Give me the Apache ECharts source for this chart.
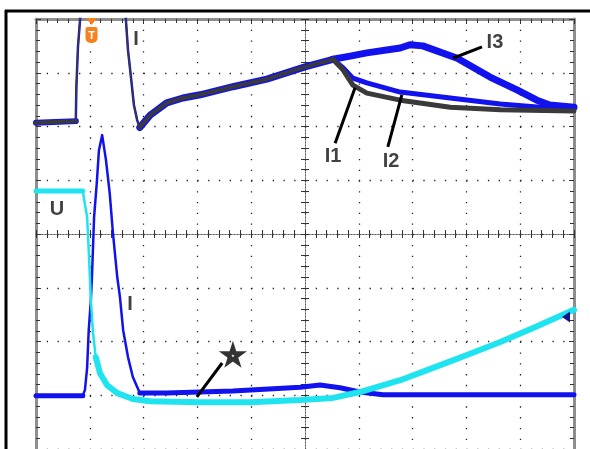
<!DOCTYPE html>
<html>
<head>
<meta charset="utf-8">
<script src="https://cdn.jsdelivr.net/npm/echarts/dist/echarts.min.js"></script>
<style>
html, body { margin: 0; padding: 0; background: #fff; }
#chart { width: 590px; height: 449px; }
</style>
</head>
<body>
<div id="chart"></div>
<script>
// all values in screen divisions, origin at the centre of the graticule

// upper trace: part shared by I1, I2, I3
const topBase = [[-5.0, 2.07], [-4.26, 2.10]];
const topSpike = [[-4.26, 2.10], [-4.25, 2.72], [-4.22, 3.48], [-4.18, 4.0], [-4.17, 4.4],
  [-3.34, 4.4], [-3.33, 4.0], [-3.29, 3.42], [-3.23, 2.87], [-3.18, 2.40], [-3.12, 2.12], [-3.07, 1.98]];
const topRamp = [[-3.07, 1.98], [-2.88, 2.21], [-2.57, 2.44], [-2.27, 2.53], [-1.95, 2.59],
  [-1.34, 2.74], [-0.71, 2.88], [0.0, 3.11], [0.52, 3.25]];

// upper trace: branches after the peak
const i1Tail = [[0.52, 3.25], [0.71, 3.05], [0.89, 2.77], [1.15, 2.62], [1.77, 2.49],
  [2.70, 2.36], [3.63, 2.31], [5.0, 2.29]];
const i2Tail = [[0.52, 3.25], [0.71, 3.09], [0.89, 2.90], [1.15, 2.81], [1.77, 2.64],
  [2.70, 2.53], [3.63, 2.42], [4.37, 2.36], [5.0, 2.36]];
const i3Tail = [[0.52, 3.25], [0.84, 3.31], [1.15, 3.37], [1.77, 3.46], [1.95, 3.52], [2.19, 3.50],
  [2.83, 3.27], [3.44, 2.92], [3.94, 2.68], [4.31, 2.49], [4.55, 2.40], [5.0, 2.36]];

// lower traces: voltage U
const uFlat = [[-5.0, 0.80], [-4.13, 0.80]];
const uDrop = [[-4.13, 0.80], [-4.11, 0.67], [-4.05, 0.32], [-4.02, -0.30], [-3.98, -1.23],
  [-3.94, -1.84], [-3.89, -2.29]];
const uTail = [[-3.89, -2.29], [-3.81, -2.59], [-3.68, -2.81], [-3.49, -2.96], [-3.20, -3.07],
  [-2.88, -3.11], [-1.95, -3.13], [-1.02, -3.13], [-0.09, -3.09], [0.52, -3.05], [1.02, -2.94],
  [1.77, -2.72], [2.38, -2.49], [3.01, -2.25], [3.63, -2.01], [4.24, -1.75], [5.0, -1.41]];

// lower traces: current I
const iBase = [[-5.0, -3.01], [-4.13, -3.01]];
const iPulse = [[-4.13, -3.01], [-4.09, -2.90], [-4.05, -2.49], [-4.02, -1.79], [-3.98, -1.23],
  [-3.96, -0.80], [-3.92, 0.32], [-3.87, 0.95], [-3.83, 1.56], [-3.77, 1.84], [-3.70, 1.38],
  [-3.63, 0.76], [-3.57, 0.02], [-3.49, -0.80], [-3.44, -1.17], [-3.38, -1.79], [-3.29, -2.29],
  [-3.20, -2.66], [-3.07, -2.96]];
const iTail = [[-3.07, -2.96], [-2.57, -2.96], [-1.34, -2.92], [-0.09, -2.85], [0.28, -2.81],
  [0.65, -2.86], [1.02, -2.94], [1.45, -2.99], [5.0, -2.99]];

// annotations
const labelTexts = ['I', 'I3', 'I1', 'I2', 'U', 'I'];
const labelAt = [[-3.14, 3.61], [3.53, 3.57], [0.52, 1.45], [1.60, 1.34], [-4.61, 0.45], [-3.25, -1.32]];
const pointerLines = [
  [[3.29, 3.48], [2.75, 3.27]],
  [[0.93, 2.72], [0.56, 1.69]],
  [[1.80, 2.59], [1.54, 1.62]],
  [[-1.54, -2.40], [-2.01, -3.03]]
];
const starAt = [-1.34, -2.25];

const BLUE = '#1212ee';
const GRAY = '#3a3a3a';
const CYAN = '#1fe4f0';
const ORANGE = '#f5821f';
const FONT = '"Liberation Sans Narrow", "Liberation Sans", Arial, sans-serif';

function trace(data, color, width, z) {
  return {
    type: 'line', data, symbol: 'none', z, silent: true, clip: true,
    lineStyle: { color, width, cap: 'round', join: 'round' }
  };
}

function axis(position, onZero, inside, split, border) {
  const horiz = position === 'top' || position === 'bottom';
  return {
    type: 'value', min: horiz ? -5 : -4, max: horiz ? 5 : 4, interval: 1, position,
    axisLine: {
      show: true, onZero, onZeroAxisIndex: onZero ? 0 : undefined,
      lineStyle: border ? { color: '#8e8e8e', width: 3 } : { color: '#555', width: 1, type: [1, 2] }
    },
    axisTick: { show: true, inside, length: border ? 5 : 4, lineStyle: { color: '#333' } },
    minorTick: { show: true, splitNumber: 5, length: 4, lineStyle: { color: '#333' } },
    axisLabel: { show: false },
    splitLine: { show: split, lineStyle: { color: '#222', width: 1.3, type: [1.3, 9.46] } }
  };
}

const chart = echarts.init(document.getElementById('chart'));
chart.setOption({
  animation: false,
  backgroundColor: '#fff',
  grid: { left: 36, right: 16, top: 19, bottom: 0 },
  xAxis: [
    axis('bottom', true, false, true, false),
    axis('top', true, false, false, false),
    axis('top', false, true, false, true)
  ],
  yAxis: [
    axis('left', true, false, true, false),
    axis('right', true, false, false, false),
    axis('left', false, true, false, true),
    axis('right', false, true, false, true)
  ],
  series: [
    trace(topBase, BLUE, 6, 3),
    trace(topSpike, BLUE, 2.5, 3),
    trace(topRamp, BLUE, 7, 3),
    trace(i2Tail, BLUE, 5, 3),
    trace(i3Tail, BLUE, 7, 3),
    trace(topBase, GRAY, 4, 4),
    trace(topSpike, GRAY, 1.5, 4),
    trace(topRamp, GRAY, 4, 4),
    trace(i1Tail, GRAY, 5, 4),
    trace(iBase, BLUE, 5, 3),
    trace(iPulse, BLUE, 2.5, 3),
    trace(iTail, BLUE, 5, 3),
    trace(uFlat, CYAN, 5, 5),
    trace(uDrop, CYAN, 2.5, 5),
    trace(uTail, CYAN, 6, 5),
    {
      type: 'lines', coordinateSystem: 'cartesian2d', z: 6, silent: true,
      data: pointerLines.map(c => ({ coords: c })),
      lineStyle: { color: '#000', width: 3, opacity: 1, curveness: 0 }
    },
    {
      type: 'scatter', z: 7, silent: true, symbolSize: 1,
      itemStyle: { color: 'rgba(0,0,0,0)' },
      data: labelTexts.map((t, i) => ({ name: t, value: labelAt[i] })),
      label: {
        show: true, formatter: '{b}', position: 'inside', color: '#111',
        fontSize: 20, fontWeight: 'bold', fontFamily: FONT
      }
    },
    {
      type: 'scatter', z: 7, silent: true, data: [starAt], symbolSize: 16, symbolKeepAspect: true,
      symbol: 'path://M50,0 L61,35 L98,35 L68,57 L79,91 L50,70 L21,91 L32,57 L2,35 L39,35 Z',
      itemStyle: { color: '#fff', borderColor: '#000', borderWidth: 4 }
    }
  ],
  graphic: [
    { type: 'line', z: 100, shape: { x1: 5, y1: 11, x2: 590, y2: 11 }, style: { stroke: '#000', lineWidth: 3 } },
    { type: 'line', z: 100, shape: { x1: 6, y1: 10, x2: 6, y2: 449 }, style: { stroke: '#000', lineWidth: 3 } },
    { type: 'polygon', z: 100, shape: { points: [[86, 18], [97, 18], [91.5, 25]] }, style: { fill: ORANGE } },
    { type: 'rect', z: 100, shape: { x: 85.5, y: 27, width: 12, height: 16, r: [2, 2, 5, 5] }, style: { fill: ORANGE } },
    {
      type: 'text', z: 101, x: 91.5, y: 35.5,
      style: { text: 'T', fill: '#fff', font: 'bold 11px "Liberation Sans"', align: 'center', verticalAlign: 'middle' }
    },
    { type: 'polygon', z: 100, shape: { points: [[562, 317], [570, 311.5], [570, 322.5]] }, style: { fill: '#14148a' } }
  ]
});
</script>
</body>
</html>
